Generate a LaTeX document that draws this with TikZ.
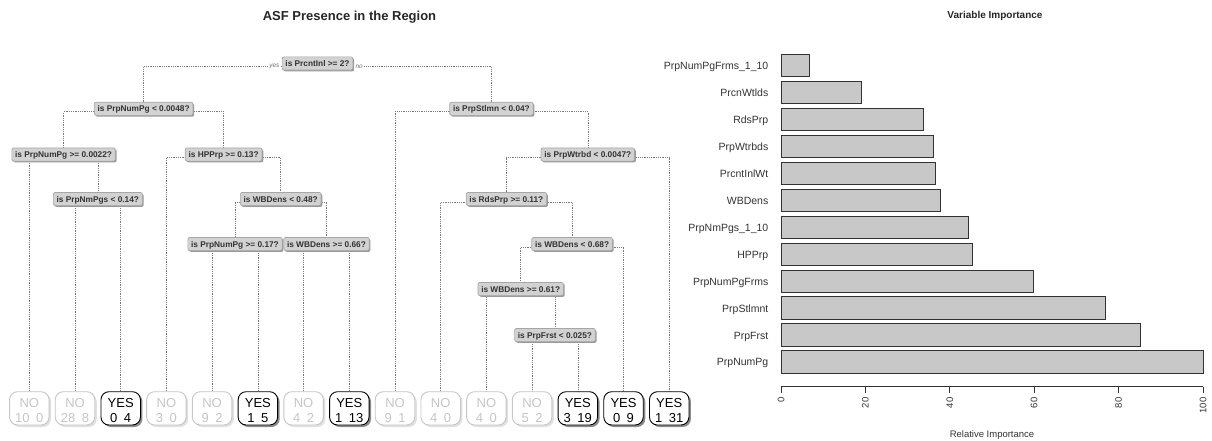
\documentclass[tikz,border=0pt]{standalone}
\usepackage{fontspec}
\setmainfont{Liberation Sans}
\usetikzlibrary{shadows,backgrounds}
\definecolor{boxfill}{HTML}{D2D2D2}
\definecolor{boxline}{HTML}{A6A6A6}
\definecolor{branchcol}{HTML}{7A7A7A}
\definecolor{nogray}{HTML}{C6C6C6}
\definecolor{barfill}{HTML}{C8C8C8}
\definecolor{txt}{HTML}{333333}
\newcommand\leaftext[3]{\raisebox{0pt}[6.5pt][8.7pt]{\begin{tabular}[t]{@{}c@{}}#1\\#2\hspace{6.5pt}#3\end{tabular}}}
\begin{document}
\begin{tikzpicture}[x=1pt,y=-1pt,
  qbox/.style={draw=boxline, fill=boxfill, rounded corners=2pt, line width=0.7pt,
    font=\bfseries\fontsize{8.3}{10}\selectfont, text=txt,
    inner xsep=3.3pt, inner ysep=2.6pt, text height=7pt, text depth=1pt,
    drop shadow={shadow xshift=1.3pt, shadow yshift=-1.3pt, fill=black!40, opacity=1}},
  leafbase/.style={fill=white, rounded corners=8pt, minimum width=39.5pt, minimum height=33.3pt,
    inner xsep=3pt, inner ysep=0pt, font=\fontsize{13}{15.4}\selectfont},
  leafyes/.style={leafbase, draw=black, line width=0.9pt, text=black,
    drop shadow={shadow xshift=2pt, shadow yshift=-2pt, fill=black!45, opacity=1}},
  leafno/.style={leafbase, draw=nogray, line width=0.9pt, text=nogray,
    drop shadow={shadow xshift=2pt, shadow yshift=-2pt, fill=black!12, opacity=1}},
  branch/.style={draw=branchcol, line width=0.6pt, dash pattern=on 0.6pt off 1.2pt},
  yn/.style={font=\itshape\fontsize{6.5}{7}\selectfont, text=black!55, fill=white, inner xsep=1.2pt, inner ysep=0.5pt},
  bar/.style={draw=black!80, line width=0.8pt, fill=barfill},
  barlab/.style={font=\fontsize{10.5}{12}\selectfont, text=txt, anchor=base east, inner sep=0pt},
  ticklab/.style={font=\fontsize{9.5}{11}\selectfont, text=txt, rotate=90, anchor=east, inner sep=0pt},
]
\useasboundingbox (0,0) rectangle (1212,441);

% ---------- titles ----------
\node[font=\bfseries\fontsize{13}{15}\selectfont, text=black!85, anchor=base, inner sep=0pt] (title) at (349.5,20.5) {ASF Presence in the Region};
\node[font=\bfseries\fontsize{10}{12}\selectfont, text=black!85, anchor=base, inner sep=0pt] (vtitle) at (995,18.5) {Variable Importance};

% ---------- tree: split nodes ----------
\node[qbox] (N1)   at (317.5,63.5) {is PrcntInl >= 2?};
\node[qbox] (N2)   at (143.6,108.8) {is PrpNumPg < 0.0048?};
\node[qbox] (N3)   at (491.4,108.8) {is PrpStlmn < 0.04?};
\node[qbox] (N4)   at (63.6,154.5) {is PrpNumPg >= 0.0022?};
\node[qbox] (N5)   at (223.6,154.5) {is HPPrp >= 0.13?};
\node[qbox] (N7)   at (587.8,154.5) {is PrpWtrbd < 0.0047?};
\node[qbox] (N10)  at (97.85,199) {is PrpNmPgs < 0.14?};
\node[qbox] (N11)  at (280.7,199) {is WBDens < 0.48?};
\node[qbox] (N14)  at (506.4,199) {is RdsPrp >= 0.11?};
\node[qbox] (N22)  at (235.0,244) {is PrpNumPg >= 0.17?};
\node[qbox] (N23)  at (326.45,244) {is WBDens >= 0.66?};
\node[qbox] (N29)  at (572.1,244) {is WBDens < 0.68?};
\node[qbox] (N58)  at (520.7,289) {is WBDens >= 0.61?};
\node[qbox] (N117) at (554.95,335) {is PrpFrst < 0.025?};

\node[yn, anchor=east] (yes) at ([xshift=-1pt,yshift=-3pt]N1.west) {yes};
\node[yn, anchor=west] (no)  at ([xshift=1pt,yshift=-3pt]N1.east) {no};

% ---------- tree: leaves ----------
\node[leafno]  (L0)  at (29.3,408.35)  {\leaftext{NO}{10}{0}};
\node[leafno]  (L1)  at (75.0,408.35)  {\leaftext{NO}{28}{8}};
\node[leafyes] (L2)  at (120.7,408.35) {\leaftext{YES}{0}{4}};
\node[leafno]  (L3)  at (166.4,408.35) {\leaftext{NO}{3}{0}};
\node[leafno]  (L4)  at (212.1,408.35) {\leaftext{NO}{9}{2}};
\node[leafyes] (L5)  at (257.9,408.35) {\leaftext{YES}{1}{5}};
\node[leafno]  (L6)  at (303.6,408.35) {\leaftext{NO}{4}{2}};
\node[leafyes] (L7)  at (349.3,408.35) {\leaftext{YES}{1}{13}};
\node[leafno]  (L8)  at (395.0,408.35) {\leaftext{NO}{9}{1}};
\node[leafno]  (L9)  at (440.7,408.35) {\leaftext{NO}{4}{0}};
\node[leafno]  (L10) at (486.4,408.35) {\leaftext{NO}{4}{0}};
\node[leafno]  (L11) at (532.1,408.35) {\leaftext{NO}{5}{2}};
\node[leafyes] (L12) at (577.8,408.35) {\leaftext{YES}{3}{19}};
\node[leafyes] (L13) at (623.5,408.35) {\leaftext{YES}{0}{9}};
\node[leafyes] (L14) at (669.2,408.35) {\leaftext{YES}{1}{31}};

% ---------- tree: branches ----------
\begin{scope}[on background layer]
\foreach \p/\c in {N1/N2, N1/N3, N2/N4, N2/N5, N4/L0, N4/N10, N10/L1, N10/L2,
  N5/L3, N5/N11, N11/N22, N11/N23, N22/L4, N22/L5, N23/L6, N23/L7,
  N3/L8, N3/N7, N7/N14, N7/L14, N14/L9, N14/N29, N29/N58, N29/L13,
  N58/L10, N58/N117, N117/L11, N117/L12}
  \draw[branch] ([yshift=-3pt]\p.center) -| (\c.north);
\end{scope}

% ---------- variable importance bars ----------
\foreach \lab/\val [count=\i from 0] in {
  PrpNumPgFrms\_1\_10/6.7, PrcnWtlds/19.1, RdsPrp/33.7, PrpWtrbds/36.1,
  PrcntInlWt/36.7, WBDens/37.7, PrpNmPgs\_1\_10/44.4, HPPrp/45.3,
  PrpNumPgFrms/59.8, PrpStlmnt/76.8, PrpFrst/85.2, PrpNumPg/100}
{
  \pgfmathsetmacro{\top}{54.3+26.95*\i}
  \draw[bar] (781,\top) rectangle ({781+4.22*\val},{\top+22.4});
  \node[barlab] (lab\i) at (768.5,{\top+11.2+4}) {\lab};
}

% ---------- axis ----------
\draw[line width=0.8pt, draw=black!80] (781,386.7) -- (1203,386.7);
\foreach \v in {0,20,40,60,80,100} {
  \draw[line width=0.8pt, draw=black!80] ({781+4.22*\v},386.7) -- ({781+4.22*\v},393);
  \node[ticklab] (t\v) at ({781+4.22*\v},397.5) {\v};
}
\node[font=\fontsize{9.5}{11}\selectfont, text=txt, anchor=base, inner sep=0pt] (xlab) at (992,437) {Relative Importance};
\end{tikzpicture}
\end{document}
